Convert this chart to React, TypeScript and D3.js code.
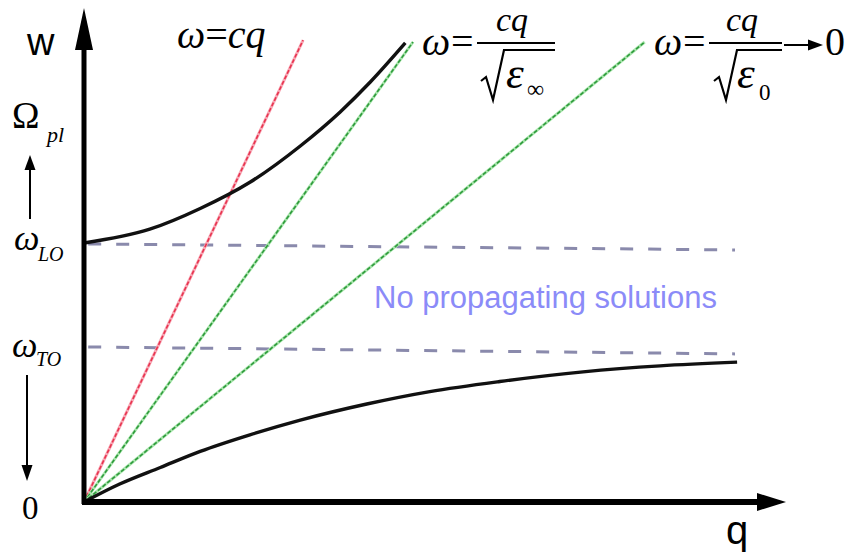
import React from "react";
import * as d3 from "d3";

// Phonon-polariton dispersion sketch: ω versus q
const upperBranchQ = [0, 0.94, 1.66, 2.37, 3.09, 3.66, 4.09, 4.59];
const upperBranchW = [5.63, 5.93, 6.38, 6.95, 7.74, 8.48, 9.13, 9.98];
const lowerBranchQ = [0, 0.51, 1.09, 1.66, 2.37, 3.09, 4.04, 4.94, 5.94, 7.13, 8.23, 9.33];
const lowerBranchW = [0, 0.39, 0.75, 1.1, 1.46, 1.78, 2.13, 2.4, 2.62, 2.83, 2.96, 3.04];

// Light lines ω = cq / sqrt(ε): end points at the top of the plot
const lightLineNames = ["vacuum", "epsInf", "eps0"];
const lightLineEndQ = [3.13, 4.7, 8.01];
const lightLineEndW = [10.04, 10.0, 10.0];

// Horizontal reference levels ωLO and ωTO (start q, start ω, end q, end ω)
const levelNames = ["LO", "TO"];
const levelStartQ = [0.06, 0.06];
const levelStartW = [5.61, 3.37];
const levelEndQ = [9.3, 9.3];
const levelEndW = [5.48, 3.22];

const W = 851;
const H = 555;

const x = d3.scaleLinear().domain([0, 10]).range([84, 784]);
const y = d3.scaleLinear().domain([0, 10]).range([502, 42]);

const SERIF = "'Liberation Serif', 'Times New Roman', serif";
const SANS = "'Liberation Sans', Arial, sans-serif";

const branchLine = d3
  .line<[number, number]>()
  .x((d) => x(d[0]))
  .y((d) => y(d[1]))
  .curve(d3.curveMonotoneX);

function zip(a: number[], b: number[]): [number, number][] {
  return a.map((v, i) => [v, b[i]]);
}

function Radical({ x0, x1, yTop }: { x0: number; x1: number; yTop: number }) {
  // square-root sign with overbar
  const d = `M${x0},${yTop + 31} L${x0 + 5},${yTop + 27} L${x0 + 12},${yTop + 50} L${x0 + 23},${yTop} L${x1},${yTop}`;
  return <path d={d} fill="none" stroke="#000" strokeWidth={2.2} strokeLinejoin="miter" />;
}

export default function App() {
  const lineColors = ["#e8334f", "#2f9a3c", "#2f9a3c"];
  const haloColors = ["#f7a9b6", "#a9e6ad", "#a9e6ad"];
  const x0 = x(0);
  const y0 = y(0);

  return (
    <svg
      width={W}
      height={H}
      style={{ position: "absolute", left: 0, top: 0, background: "#fff" }}
      fontFamily={SERIF}
    >
      {/* reference levels */}
      {levelNames.map((n, i) => (
        <line
          key={n}
          x1={x(levelStartQ[i])}
          y1={y(levelStartW[i])}
          x2={x(levelEndQ[i])}
          y2={y(levelEndW[i])}
          stroke="#8a8aac"
          strokeWidth={3}
          strokeDasharray="13 15"
        />
      ))}

      {/* light lines */}
      {lightLineNames.map((n, i) => (
        <g key={n}>
          <line
            x1={x(0)}
            y1={y(0)}
            x2={x(lightLineEndQ[i])}
            y2={y(lightLineEndW[i])}
            stroke={haloColors[i]}
            strokeWidth={3}
          />
          <line
            x1={x(0)}
            y1={y(0)}
            x2={x(lightLineEndQ[i])}
            y2={y(lightLineEndW[i])}
            stroke={lineColors[i]}
            strokeWidth={1.6}
            strokeDasharray="4 2"
          />
        </g>
      ))}

      {/* polariton branches */}
      <path d={branchLine(zip(upperBranchQ, upperBranchW)) || ""} fill="none" stroke="#111" strokeWidth={3.4} />
      <path d={branchLine(zip(lowerBranchQ, lowerBranchW)) || ""} fill="none" stroke="#111" strokeWidth={3.4} />

      {/* axes */}
      <line x1={x0} y1={y0 + 2} x2={x0} y2={40} stroke="#000" strokeWidth={5} />
      <path d={`M${x0},8 L${x0 + 9},50 L${x0 - 9},50 Z`} fill="#000" />
      <line x1={x0 - 2} y1={y0} x2={760} y2={y0} stroke="#000" strokeWidth={6} />
      <path d={`M786,${y0} L757,${y0 - 9} L757,${y0 + 9} Z`} fill="#000" />

      {/* axis names */}
      <text x={27} y={55} fontFamily={SANS} fontSize={38}>w</text>
      <text x={726} y={544} fontFamily={SANS} fontSize={40}>q</text>
      <text x={22} y={519} fontSize={33}>0</text>

      {/* left-side level labels */}
      <text x={12} y={128} fontSize={37}>Ω</text>
      <text x={47} y={142} fontSize={22} fontStyle="italic">pl</text>
      <line x1={30} y1={219} x2={30} y2={165} stroke="#000" strokeWidth={2} />
      <path d="M30,155 L35.5,170 L24.5,170 Z" fill="#000" />

      <text x={14} y={250} fontSize={36} fontStyle="italic">ω</text>
      <text x={38} y={261} fontSize={20} fontStyle="italic">LO</text>

      <text x={12} y={357} fontSize={36} fontStyle="italic">ω</text>
      <text x={36} y={366} fontSize={20} fontStyle="italic">TO</text>
      <line x1={27} y1={375} x2={27} y2={468} stroke="#000" strokeWidth={2} />
      <path d="M27,481 L32.5,465 L21.5,465 Z" fill="#000" />

      {/* ω = cq */}
      <text x={177} y={48} fontSize={40} fontStyle="italic">
        ω<tspan fontStyle="normal">=</tspan>cq
      </text>

      {/* ω = cq / sqrt(ε∞) */}
      <text x={422} y={55} fontSize={40} fontStyle="italic">ω</text>
      <text x={451} y={55} fontSize={40}>=</text>
      <text x={496} y={31} fontSize={34} fontStyle="italic">cq</text>
      <line x1={477} y1={43} x2={555} y2={43} stroke="#000" strokeWidth={2} />
      <Radical x0={481} x1={555} yTop={50} />
      <text x={506} y={88} fontSize={45} fontStyle="italic">ε</text>
      <text x={527} y={97} fontSize={24}>∞</text>

      {/* ω = cq / sqrt(ε0) → 0 */}
      <text x={654} y={55} fontSize={40} fontStyle="italic">ω</text>
      <text x={683} y={55} fontSize={40}>=</text>
      <text x={726} y={31} fontSize={34} fontStyle="italic">cq</text>
      <line x1={709} y1={43} x2={782} y2={43} stroke="#000" strokeWidth={2} />
      <Radical x0={714} x1={782} yTop={50} />
      <text x={737} y={88} fontSize={45} fontStyle="italic">ε</text>
      <text x={759} y={100} fontSize={23}>0</text>
      <line x1={784} y1={45} x2={812} y2={45} stroke="#000" strokeWidth={2} />
      <path d="M823,45 L808,39.5 L808,50.5 Z" fill="#000" />
      <text x={825} y={55} fontSize={40}>0</text>

      {/* annotation */}
      <text x={374} y={308} fontFamily={SANS} fontSize={31} fill="#8b8bf8">
        No propagating solutions
      </text>
    </svg>
  );
}
